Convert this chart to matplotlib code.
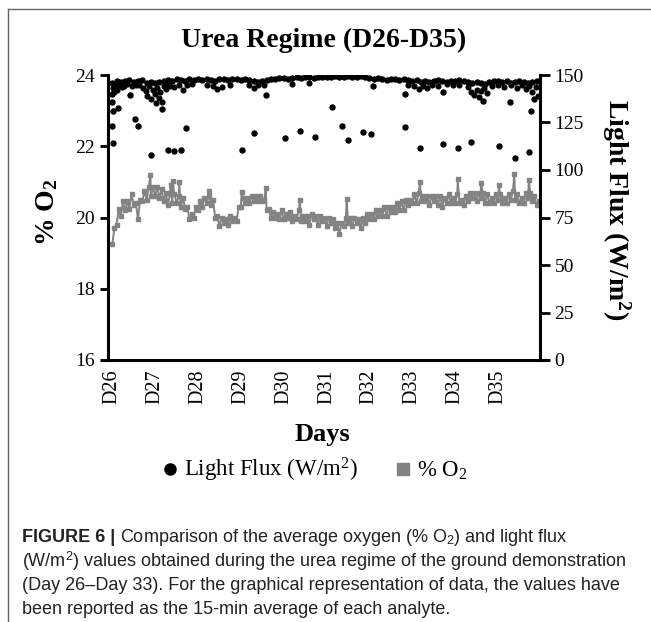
import numpy as np
import matplotlib
matplotlib.use("Agg")
import matplotlib.pyplot as plt
from matplotlib.lines import Line2D

# ---- data ----
day_labels = ["D26", "D27", "D28", "D29", "D30", "D31", "D32", "D33", "D34", "D35"]

# % O2, 0.05 day steps starting at D26
o2_values = [
    19.25, 19.7, 19.8, 20.25, 20.05, 20.45, 20.2, 20.45, 20.25, 20.65,
    20.35, 20.4, 19.95, 20.5, 20.45, 20.75, 20.5, 20.85, 20.6, 20.85,
    20.6, 20.85, 20.55, 20.8, 20.45, 20.7, 20.35, 20.7, 20.4, 20.65,
    20.4, 20.6, 20.3, 20.55, 20.25, 20.3, 19.95, 20.1, 20.0, 20.3,
    20.2, 20.45, 20.3, 20.55, 20.4, 20.6, 20.35, 20.5, 20.0, 20.05,
    19.75, 20.0, 19.85, 19.95, 19.8, 20.05, 19.9, 20.0, 19.9, 20.3,
    20.3, 20.55, 20.4, 20.55, 20.4, 20.6, 20.45, 20.6, 20.45, 20.6,
    20.45, 20.5, 20.2, 20.25, 20.0, 20.15, 20.0, 20.1, 19.95, 20.2,
    19.95, 20.1, 20.0, 20.15, 19.9, 20.05, 19.95, 20.2, 19.9, 20.05,
    19.9, 20.05, 19.8, 20.1, 19.95, 20.05, 19.8, 20.05, 19.9, 20.0,
    19.75, 20.0, 19.85, 19.95, 19.7, 19.85, 19.55, 19.85, 19.75, 20.0,
    19.85, 20.0, 19.75, 20.0, 19.85, 19.95, 19.7, 20.0, 19.85, 20.1,
    19.95, 20.1, 19.95, 20.2, 20.05, 20.2, 20.05, 20.3, 20.05, 20.3,
    20.15, 20.3, 20.15, 20.4, 20.2, 20.45, 20.2, 20.5, 20.35, 20.5,
    20.4, 20.65, 20.4, 20.7, 20.45, 20.6, 20.45, 20.6, 20.35, 20.6,
    20.45, 20.6, 20.35, 20.6, 20.3, 20.55, 20.4, 20.65, 20.4, 20.55,
    20.4, 20.65, 20.4, 20.5, 20.35, 20.6, 20.45, 20.7, 20.55, 20.7,
    20.45, 20.7, 20.55, 20.7, 20.4, 20.65, 20.4, 20.55, 20.4, 20.65,
    20.5, 20.65, 20.4, 20.55, 20.4, 20.65, 20.5, 20.75, 20.5, 20.65,
    20.4, 20.55, 20.4, 20.7, 20.55, 20.7, 20.45, 20.6, 20.35, 20.45,
]
o2_spike_days = [0.89, 1.36, 1.41, 1.56, 2.25, 3.02, 3.58, 4.38, 5.47, 7.18, 8.06, 8.6, 9.02, 9.38, 9.72]
o2_spike_values = [21.19, 20.9, 21.03, 21.0, 20.75, 20.72, 20.82, 20.49, 20.51, 21.0, 21.07, 20.98, 20.9, 21.22, 21.05]

# light flux, main band at 0.1 day steps
flux_band = [
    146, 147, 146.5, 147, 147.5, 146.5, 147, 147.5, 146, 146.5,
    146, 146.5, 147, 147.5, 147, 148, 147.5, 147, 148, 147.5,
    148, 147.5, 148, 147.5, 147, 148, 148, 147.5, 148, 148,
    147.5, 148, 147.5, 147, 146.5, 147, 147.5, 148, 148, 148.5,
    148.5, 148, 148.5, 149, 148.5, 149, 149, 148.5, 149, 149,
    149, 149, 149.5, 149, 149, 149.5, 149, 149, 149.5, 149,
    148.5, 148, 148.5, 148, 147.5, 148, 148, 147.5, 148, 147.5,
    147, 147.5, 146.5, 147, 146.5, 147, 147.5, 147, 146.5, 147,
    147, 147.5, 147, 146.5, 146, 146.5, 146, 145.5, 146.5, 147,
    147, 146.5, 147, 146, 146.5, 147, 146.5, 146, 146.5, 147,
]
# scattered readings just below the band
flux_near_days = [
    0.02, 0.05, 0.08, 0.12, 0.18, 0.22, 0.28, 0.35, 0.45, 0.55, 0.62,
    0.72, 0.78, 0.82, 0.85, 0.9, 0.95, 1.0, 1.03, 1.05, 1.1, 1.12, 1.15, 1.2, 1.25,
    1.3, 1.35, 1.45, 1.55, 1.65, 1.75, 1.85,
    2.2, 2.35, 2.45, 2.55, 2.75, 3.2, 3.3, 3.4, 3.55, 4.2, 4.6,
    6.9, 7.05, 7.15, 7.25, 7.35, 7.45, 7.6, 7.8, 7.95, 8.1,
    8.3, 8.38, 8.45, 8.5, 8.55, 8.6, 8.68, 8.75, 8.85, 9.0, 9.15, 9.3, 9.45,
    9.55, 9.65, 9.72, 9.8, 9.88, 9.93,
]
flux_near_values = [
    143, 141, 144.5, 142, 145, 143.5, 144, 145.5, 144, 145, 144.5,
    143, 141.5, 139, 144, 137.5, 142, 140, 135.5, 143, 138, 141, 136, 144, 142.5,
    145, 144, 143.5, 145, 142, 144.5, 145.5,
    145, 144, 142.5, 143.5, 145, 144.5, 143, 145, 144.5, 145.5, 146,
    145, 144, 142.5, 144, 143, 145, 144, 145.5, 144.5, 145,
    143.5, 141, 139.5, 142, 138.5, 141.5, 143, 140.5, 144, 145, 143.5, 144.5, 143,
    145, 142.5, 144, 141, 143.5, 139,
]
# isolated low readings
flux_out_days = [
    0.0, 0.0, 0.01, 0.0, 0.01, 0.13, 0.42, 0.52, 0.59, 0.91, 1.17, 1.31, 1.43,
    1.61, 1.72, 3.02, 3.31, 3.59, 4.04, 4.37, 4.72, 5.12, 5.35, 5.49, 5.86,
    6.04, 6.08, 6.82, 6.83, 7.18, 7.71, 7.72, 8.06, 8.37, 8.64, 9.02, 9.29,
    9.39, 9.73, 9.78, 9.84,
]
flux_out_values = [
    140, 136, 131, 123, 114, 132.6, 139.5, 126.8, 123.3, 107.9, 132, 110.5, 110,
    110.5, 122.3, 110.5, 119.3, 139.5, 116.7, 120.7, 117.2, 133, 123.2, 115.8, 119.8,
    118.9, 144.2, 140, 122.5, 111.4, 113.7, 141, 111.7, 114.6, 136.5, 112.6, 136,
    106.2, 109.3, 131, 137.2,
]

# ---- fonts ----
plt.rcParams['font.family'] = ['Liberation Serif', 'DejaVu Serif']
plt.rcParams['mathtext.fontset'] = 'custom'
plt.rcParams['mathtext.rm'] = 'Liberation Serif'
plt.rcParams['mathtext.it'] = 'Liberation Serif:italic'
plt.rcParams['mathtext.bf'] = 'Liberation Serif:bold'
plt.rcParams['mathtext.sf'] = 'Liberation Sans'

fig = plt.figure(figsize=(6.51, 6.22), dpi=100)
ax = fig.add_axes([108 / 651, 1 - 360 / 622, 432 / 651, 285 / 622])
ax2 = ax.twinx()

# O2 series with spikes merged in time order
o2_days = list(np.arange(len(o2_values)) * 0.05)
all_days = o2_days + o2_spike_days
all_vals = o2_values + o2_spike_values
order = np.argsort(all_days, kind="stable")
grey = "#838383"
ax.plot(np.array(all_days)[order], np.array(all_vals)[order], color=grey, lw=1.4,
        marker="s", ms=3.0, mec=grey, mfc=grey, zorder=2)

band_days = np.arange(len(flux_band)) * 0.1
ax2.plot(band_days, flux_band, ls="none", marker="o", ms=3.6, color="black")
ax2.plot(flux_near_days, flux_near_values, ls="none", marker="o", ms=3.4, color="black")
ax2.plot(flux_out_days, flux_out_values, ls="none", marker="o", ms=3.6, color="black")

ax.set_xlim(-0.1, 9.98)
ax.set_ylim(16, 24)
ax2.set_ylim(0, 150)
ax.set_yticks([16, 18, 20, 22, 24])
ax2.set_yticks([0, 25, 50, 75, 100, 125, 150])
ax.set_xticks(range(len(day_labels)))
ax.set_xticklabels(day_labels, rotation=90, fontsize=14.5)
ax.tick_params(axis="x", length=0, pad=7)
ax.tick_params(axis="y", labelsize=14, width=2, length=6, direction="out")
ax2.tick_params(axis="y", labelsize=14, width=2, length=7, direction="out")

for a in (ax, ax2):
    a.spines["top"].set_visible(False)
    for s in ("left", "right", "bottom"):
        a.spines[s].set_linewidth(2.2)
ax.spines["right"].set_visible(False)
ax2.spines["left"].set_visible(False)
ax2.spines["bottom"].set_visible(False)
ax.spines["bottom"].set_visible(False)
ax.add_line(Line2D([-0.014, 1.019], [0, 0], transform=ax.transAxes, color="black",
                   lw=2.2, clip_on=False))

# texts
fig.text(0.497, 1 - 40 / 622, "Urea Regime (D26-D35)", ha="center", va="center",
         fontsize=20, fontweight="bold")
fig.text(47 / 651, 1 - 212 / 622, r"% O$_\mathbf{2}$", rotation=90, ha="center",
         va="center", fontsize=20, fontweight="bold")
fig.text(616 / 651, 1 - 210 / 622, r"Light Flux (W/m$^\mathbf{2}$)", rotation=270,
         ha="center", va="center", fontsize=20, fontweight="bold")
fig.text(322 / 651, 1 - 435 / 622, "Days", ha="center", va="center", fontsize=19,
         fontweight="bold")

handles = [Line2D([], [], ls="none", marker="o", ms=8, color="black"),
           Line2D([], [], ls="none", marker="s", ms=8, color=grey)]
fig.legend(handles, [r"Light Flux (W/m$^2$)", r"% O$_2$"], loc="center",
           bbox_to_anchor=(313 / 651, 1 - 470 / 622), ncol=2, frameon=False,
           fontsize=16.5, handletextpad=0.1, columnspacing=1.5, handlelength=1.0)

# outer frame
fig.add_artist(Line2D([8 / 651, 8 / 651], [0, 1 - 9 / 622], color="#666666", lw=1))
fig.add_artist(Line2D([8 / 651, 1], [1 - 9 / 622, 1 - 9 / 622], color="#666666", lw=1))

# caption
cap_font = dict(family=["Liberation Sans", "DejaVu Sans"], fontsize=13.0, color="#222222",
                va="center", ha="left")
cap_y = [537, 561, 585, 609]
fig.canvas.draw()
bold = fig.text(22 / 651, 1 - cap_y[0] / 622, "FIGURE 6 | ", fontweight="bold", **cap_font)
fig.canvas.draw()
bb = bold.get_window_extent().transformed(fig.transFigure.inverted())
fig.text(bb.x1, 1 - cap_y[0] / 622,
         r"Comparison of the average oxygen (% O$_\mathsf{2}$) and light flux", **cap_font)
cap_lines = [r"(W/m$^\mathsf{2}$) values obtained during the urea regime of the ground demonstration",
             "(Day 26\u2013Day 33). For the graphical representation of data, the values have",
             "been reported as the 15-min average of each analyte."]
for yy, line in zip(cap_y[1:], cap_lines):
    fig.text(22 / 651, 1 - yy / 622, line, **cap_font)

fig.savefig("out.png", dpi=100)
